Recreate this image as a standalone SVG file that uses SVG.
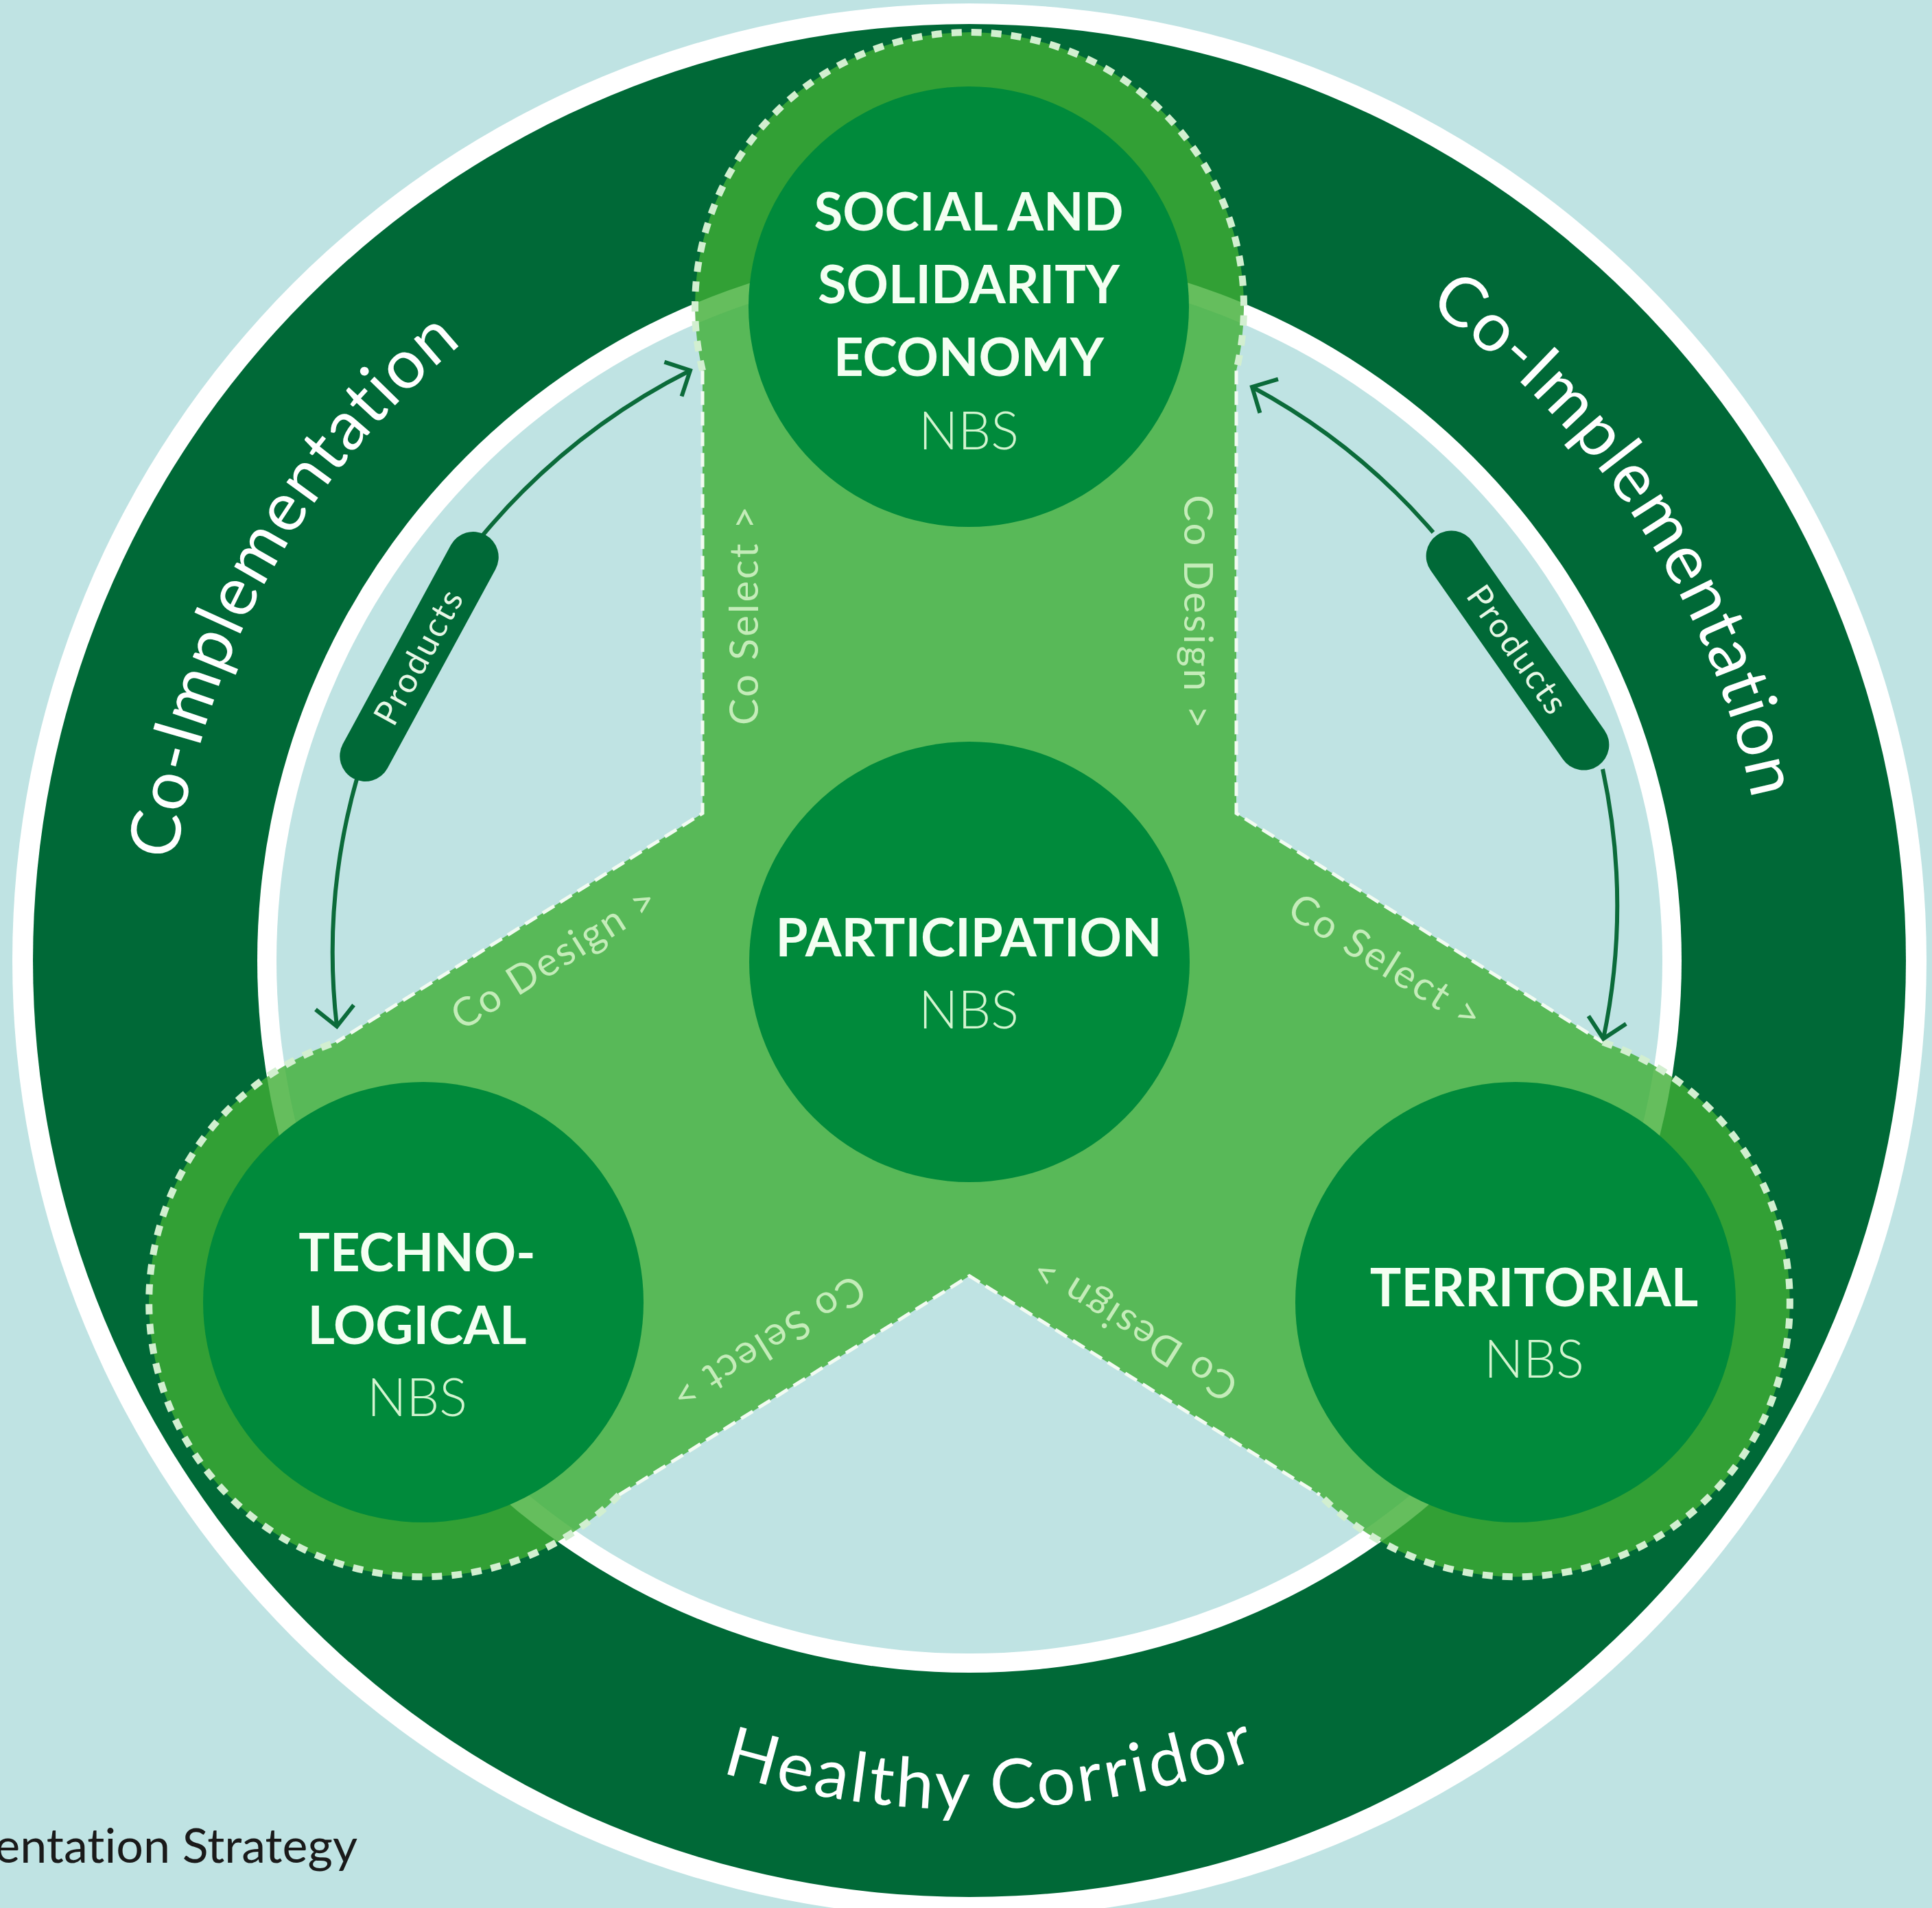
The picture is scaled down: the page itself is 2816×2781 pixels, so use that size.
<svg xmlns="http://www.w3.org/2000/svg" width="2816" height="2781" viewBox="0 0 2816 2781">
<defs>
<style>
text{font-variant-ligatures:none;font-feature-settings:"liga" 0}
.bold{font-family:Lato,'Open Sans',sans-serif;font-weight:700;fill:#f4fff2;font-size:76px;text-anchor:middle}
.nbs{font-family:Lato,'Open Sans',sans-serif;font-weight:300;fill:#d2f4cf;font-size:76px;text-anchor:middle}
.ring{font-family:Lato,'Open Sans',sans-serif;font-weight:400;fill:#ffffff;font-size:100px;letter-spacing:2px}
.lbl{font-family:Lato,'Open Sans',sans-serif;font-weight:400;font-size:58px;fill:#c4ecb9;text-anchor:middle;letter-spacing:3px}
.prod{font-family:Lato,'Open Sans',sans-serif;font-weight:400;font-size:50px;fill:#e6f7e6;text-anchor:middle;letter-spacing:3px}
.conn{fill:none;stroke:#0b6b3a;stroke-width:6}
.pill{fill:#006937}
.node{fill:#008a3b}
.edge{fill:none;stroke:#f2fbf2;stroke-width:5;stroke-dasharray:20 10}
.lobe{fill:none;stroke:#d2efd0;stroke-width:10;stroke-dasharray:15 14}
</style>
<marker id="chev" markerUnits="userSpaceOnUse" viewBox="-5 -5 40 66" refX="28" refY="28" markerWidth="40" markerHeight="66" orient="auto">
<path d="M0,0 L28,28 L0,56" fill="none" stroke="#0b6b3a" stroke-width="6"/>
</marker>
<path id="cwPath" d="M1413,236 A1165,1165 0 1 1 1413,2566 A1165,1165 0 1 1 1413,236"/>
<path id="ccwPath" d="M177,1401 A1236,1236 0 0 0 2649,1401 A1236,1236 0 0 0 177,1401"/>
</defs>

<rect x="0" y="0" width="2816" height="2781" fill="#bfe3e3"/>

<g id="ring">
<circle cx="1413" cy="1400" r="1395" fill="#ffffff"/>
<circle cx="1413" cy="1400" r="1365" fill="#006937"/>
<circle cx="1413" cy="1400" r="1038" fill="#ffffff"/>
<circle cx="1413" cy="1400" r="1010" fill="#bfe3e3"/>
<text class="ring"><textPath href="#cwPath" startOffset="83.05%" text-anchor="middle">Co-Implementation</textPath></text>
<text class="ring"><textPath href="#cwPath" startOffset="15.75%" text-anchor="middle">Co-Implementation</textPath></text>
<text class="ring" style="letter-spacing:4px"><textPath href="#ccwPath" startOffset="25.42%" text-anchor="middle">Healthy Corridor</textPath></text>
</g>

<g id="arms">
<path d="M1024,1185.4 L1024,540.2 A400,400 0 1 1 1802,540.2 L1802,1185.4 L2336.2,1519.1 A400,400 0 1 1 1923.8,2178.9 L1413,1859.7 L902.2,2178.9 A400,400 0 1 1 489.8,1519.1 Z" fill="#3fae35" fill-opacity="0.8"/>
<path class="edge" d="M1024,540.2 L1024,1185.4 L489.8,1519.1 M1802,540.2 L1802,1185.4 L2336.2,1519.1 M902.2,2178.9 L1413,1859.7 L1923.8,2178.9"/>
<path class="lobe" d="M1024,540.2 A400,400 0 1 1 1802,540.2 M2336.2,1519.1 A400,400 0 1 1 1923.8,2178.9 M902.2,2178.9 A400,400 0 1 1 489.8,1519.1"/>
</g>

<g id="connectors">
<path class="conn" d="M702,782 A950,950 0 0 1 1006,540" marker-end="url(#chev)"/>
<path class="conn" d="M521,1132 A930,930 0 0 0 491,1496" marker-end="url(#chev)"/>
<path class="conn" d="M2089,776 A930,930 0 0 0 1825,564" marker-end="url(#chev)"/>
<path class="conn" d="M2336,1121 A950,950 0 0 1 2337,1514" marker-end="url(#chev)"/>
</g>

<g id="products-left" transform="translate(611,957) rotate(-61.5)">
<rect class="pill" x="-202" y="-37" width="404" height="74" rx="37"/>
<text class="prod" x="0" y="17">Products</text>
</g>
<g id="products-right" transform="translate(2212,948) rotate(55)">
<rect class="pill" x="-205" y="-37" width="410" height="74" rx="37"/>
<text class="prod" x="0" y="17">Products</text>
</g>

<g id="node-sse">
<circle class="node" cx="1412" cy="447" r="321"/>
<text class="bold" x="1412" y="336">SOCIAL AND</text>
<text class="bold" x="1412" y="442">SOLIDARITY</text>
<text class="bold" x="1412" y="548">ECONOMY</text>
<text class="nbs" x="1412" y="655">NBS</text>
</g>

<g id="node-participation">
<circle class="node" cx="1413" cy="1402" r="321"/>
<text class="bold" x="1412" y="1394">PARTICIPATION</text>
<text class="nbs" x="1412" y="1499">NBS</text>
</g>

<g id="node-tech">
<circle class="node" cx="617" cy="1898" r="321"/>
<text class="bold" x="608" y="1853">TECHNO-</text>
<text class="bold" x="608" y="1959">LOGICAL</text>
<text class="nbs" x="608" y="2064">NBS</text>
</g>

<g id="node-territorial">
<circle class="node" cx="2209" cy="1898" r="321"/>
<text class="bold" x="2236" y="1904">TERRITORIAL</text>
<text class="nbs" x="2236" y="2008">NBS</text>
</g>

<g id="arm-labels">
<text class="lbl" transform="translate(1105,896) rotate(-90)">Co Select &gt;</text>
<text class="lbl" transform="translate(1726,893) rotate(90)">Co Design &gt;</text>
<text class="lbl" transform="translate(819,1412) rotate(-32)">Co Design &gt;</text>
<text class="lbl" transform="translate(2010,1419) rotate(32)">Co Select &gt;</text>
<text class="lbl" transform="translate(1109,1941) rotate(148)">Co Select &gt;</text>
<text class="lbl" transform="translate(1663,1920) rotate(212)">Co Design &gt;</text>
</g>

<text x="521" y="2715" text-anchor="end" font-family="Lato, 'Open Sans', sans-serif" font-size="70" fill="#1a1a1a">entation Strategy</text>
</svg>
